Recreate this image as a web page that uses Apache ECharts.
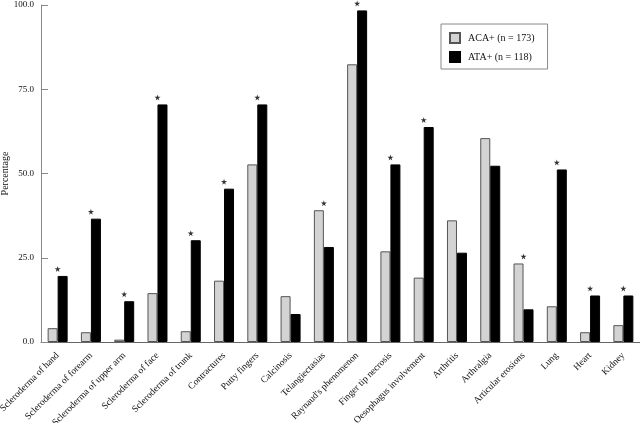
<!DOCTYPE html>
<html>
<head>
<meta charset="utf-8">
<script src="https://cdn.jsdelivr.net/npm/echarts@6/dist/echarts.min.js"></script>
<style>html,body{margin:0;padding:0;background:#fff;}#c{width:640px;height:423px;}</style>
</head>
<body>
<div id="c"></div>
<script>
const categories = ["Scleroderma of hand","Scleroderma of forearm","Scleroderma of upper arm","Scleroderma of face","Scleroderma of trunk","Contractures","Putty fingers","Calcinosis","Telangiectasias","Raynaud's phenomenon","Finger tip necrosis","Oesophagus involvement","Arthritis","Arthralgia","Articular erosions","Lung","Heart","Kidney"];
const aca = [4.1, 2.9, 0.7, 14.5, 3.2, 18.2, 52.7, 13.6, 39.1, 82.4, 26.9, 19.1, 36.1, 60.5, 23.3, 10.6, 2.9, 5.0];
const ata = [19.6, 36.6, 12.1, 70.5, 30.2, 45.5, 70.5, 8.3, 28.2, 98.4, 52.7, 63.8, 26.5, 52.3, 9.7, 51.2, 13.8, 13.8];
const significant = [1,1,1,1,1,1,1,0,1,1,1,1,0,0,1,1,1,1];
const yTicks = [0, 25, 50, 75, 100];
const seriesNames = ["ACA+ (n = 173)", "ATA+ (n = 118)"];

const starData = significant.map((s, i) => s ? Math.max(aca[i], ata[i]) : '-');
const serif = "'Liberation Serif', 'DejaVu Serif', serif";
const chart = echarts.init(document.getElementById('c'), null, {renderer: 'canvas'});
chart.setOption({
  animation: false,
  backgroundColor: '#fff',
  textStyle: {fontFamily: serif},
  grid: {left: 41, right: 0, top: 5, bottom: 81, containLabel: false, outerBoundsMode: 'none'},
  legend: {
    data: seriesNames,
    orient: 'vertical',
    left: 441, top: 24,
    padding: [8, 13, 6, 8],
    borderColor: '#888', borderWidth: 1,
    icon: 'rect',
    itemWidth: 10, itemHeight: 10, itemGap: 7,
    textStyle: {fontFamily: serif, fontSize: 10, color: '#111', padding: [0,0,0,3]}
  },
  xAxis: {
    type: 'category',
    data: categories,
    axisLine: {lineStyle: {color: '#666'}},
    axisTick: {inside: true, length: 7, lineStyle: {color: '#888'}},
    axisLabel: {rotate: 45, fontFamily: serif, fontSize: 9.5, color: '#111', margin: 12, interval: 0}
  },
  yAxis: {
    type: 'value',
    min: 0, max: 100, interval: 25,
    name: 'Percentage',
    nameLocation: 'middle',
    nameGap: 31,
    nameMoveOverlap: false,
    nameTextStyle: {fontFamily: serif, fontSize: 10, color: '#111'},
    splitLine: {show: false},
    axisLine: {show: true, lineStyle: {color: '#888'}},
    axisTick: {show: true, inside: true, length: 7, lineStyle: {color: '#888'}},
    axisLabel: {fontFamily: serif, fontSize: 9, color: '#111', margin: 7,
      formatter: v => yTicks.includes(v) ? v.toFixed(1) : ''}
  },
  series: [
    {name: seriesNames[0], type: 'bar', data: aca, barWidth: 10, barGap: '0%',
     itemStyle: {color: '#d3d3d3', borderColor: '#555', borderWidth: 1}},
    {name: seriesNames[1], type: 'bar', data: ata, barWidth: 10, barGap: '0%',
     itemStyle: {color: '#000', borderColor: '#000', borderWidth: 1}},
    {name: 'sig', type: 'scatter', data: starData, z: 5,
     symbol: 'path://M50,0 L61,35 L98,35 L68,57 L79,91 L50,70 L21,91 L32,57 L2,35 L39,35 Z',
     symbolSize: 6, symbolOffset: [0, -7], itemStyle: {color: '#000'}}
  ]
});
</script>
</body>
</html>
